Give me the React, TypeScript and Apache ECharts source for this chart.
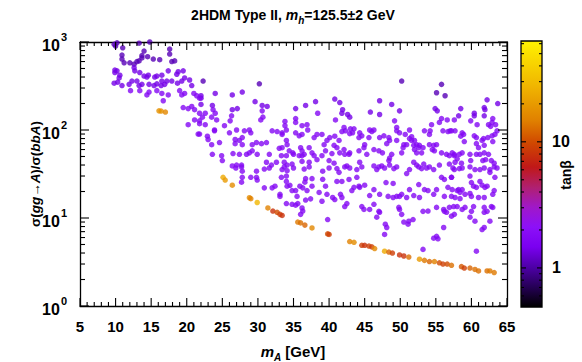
import React, { useEffect, useRef } from "react";
import * as echarts from "echarts";

// ---- axes ----
const X_MIN = 5;
const X_MAX = 65;
const X_STEP = 5;
const xMajorTicks = [5, 10, 15, 20, 25, 30, 35, 40, 45, 50, 55, 60, 65];
const xMinorTicks = [6, 7, 8, 9, 11, 12, 13, 14, 16, 17, 18, 19, 21, 22, 23, 24, 26, 27, 28, 29, 31, 32, 33, 34, 36, 37, 38, 39, 41, 42, 43, 44, 46, 47, 48, 49, 51, 52, 53, 54, 56, 57, 58, 59, 61, 62, 63, 64];
const Y_MIN = 1;
const Y_MAX = 1000;
const yMajorTicks = [1, 10, 100, 1000];
const yMinorTicks = [2, 3, 4, 5, 6, 7, 8, 9, 20, 30, 40, 50, 60, 70, 80, 90, 200, 300, 400, 500, 600, 700, 800, 900];
const TANB_MIN = 0.49;
const TANB_MAX = 63;
const cbMajorTicks = [1, 10];
const cbMinorTicks = [0.5, 0.6, 0.7, 0.8, 0.9, 2, 3, 4, 5, 6, 7, 8, 9, 20, 30, 40, 50, 60];

// ---- tan(beta) of the three purple groups ----
const TANB_DARK = 1.1;
const TANB_MID = 1.4;
const TANB_BRIGHT = 1.75;

// [m_A, sigma ratio]
const cloudDark: number[][] = [
  [9.8, 940], [10.2, 980], [10.0, 900], [13.3, 970], [14.8, 1000], [11.0, 860], [14.0, 790], [17.6, 830],
  [17.6, 730], [10.9, 710], [10.9, 640], [13.7, 700], [13.7, 660], [13.3, 610], [14.5, 680], [15.3, 640],
  [16.2, 630], [17.9, 600], [18.3, 610], [11.2, 580], [12.0, 580], [12.6, 560], [13.0, 600], [30.2, 335],
  [50.2, 360], [55.8, 330], [55.1, 265], [56.3, 245], [22.3, 360],
];

const cloudMid: number[][] = [
  [9.9, 480], [10.2, 470], [9.9, 450], [10.6, 420], [10.5, 390], [12.6, 510], [12.7, 470], [13.4, 450],
  [14.0, 410], [14.6, 420], [14.4, 400], [15.5, 400], [15.8, 410], [16.5, 420], [17.4, 470], [18.6, 430],
  [18.8, 460], [19.5, 470], [9.8, 340], [10.3, 350], [10.9, 320], [11.9, 330], [12.3, 360], [13.0, 360],
  [13.7, 330], [13.3, 320], [14.7, 330], [15.4, 320], [15.8, 335], [16.4, 320], [16.9, 330], [16.5, 360],
  [17.2, 360], [17.9, 360], [18.7, 340], [19.3, 360], [19.7, 390], [20.4, 370], [20.7, 320],
  [22.0, 245], [22.0, 230], [24.0, 260], [26.4, 250], [27.8, 270], [29.6, 210], [30.6, 190], [31.3, 185],
  [35.3, 175], [36.7, 190], [38.1, 210], [40.8, 225], [41.5, 205], [47.1, 215], [48.8, 195], [49.9, 165],
  [54.9, 175], [55.2, 165], [41.9, 170], [41.8, 155], [42.6, 150], [42.9, 140], [45.8, 160], [47.1, 150],
  [62.2, 220], [63.7, 200], [61.8, 180], [61.9, 170], [58.5, 175], [60.4, 155], [60.4, 145], [58.2, 145],
  [61.8, 145], [26.4, 170], [27.1, 175], [22.0, 195], [23.6, 190],
];

const cloudBright: number[][] = [
  [12.1, 280], [13.4, 280], [14.7, 270], [15.8, 280], [16.5, 260], [17.4, 250], [19.0, 280], [19.3, 250],
  [19.7, 260], [21.0, 260], [21.4, 245], [21.8, 230], [14.4, 250], [16.7, 215], [19.5, 180], [20.2, 175],
  [20.7, 185], [21.1, 170], [21.8, 155], [21.1, 130], [21.8, 127], [20.2, 115], [21.6, 90],
  [22.6, 155], [23.7, 170], [24.0, 155], [23.5, 140], [22.2, 140], [21.8, 118], [22.6, 115], [24.2, 130],
  [26.3, 145], [26.1, 127], [30.6, 165], [30.4, 130], [30.7, 140], [25.3, 112], [21.8, 90], [22.9, 85],
  [23.0, 78], [23.9, 100], [23.9, 98], [23.5, 68], [24.6, 72], [24.9, 51], [25.0, 45], [23.6, 53],
  [26.0, 93], [27.0, 100], [28.1, 98], [28.8, 100], [29.0, 93], [26.8, 78], [27.4, 76], [27.8, 82],
  [27.8, 68], [26.8, 70], [29.2, 68], [29.8, 72], [30.5, 70], [31.2, 72], [26.5, 54], [27.4, 53],
  [28.4, 53], [28.8, 55], [29.2, 58], [29.9, 53], [31.6, 53], [27.0, 40], [27.7, 40], [26.4, 39],
  [31.2, 43], [31.9, 40], [32.6, 43], [32.0, 98], [32.7, 96], [33.4, 93], [33.4, 89], [34.0, 100],
  [33.8, 112], [33.8, 125], [38.4, 155], [35.3, 135], [35.3, 122], [36.2, 112], [36.9, 115], [37.0, 100],
  [35.3, 93], [35.8, 86], [36.2, 89], [37.9, 82], [38.3, 89], [39.0, 89], [34.0, 76], [34.1, 68],
  [33.4, 63], [33.0, 62], [34.4, 58], [34.9, 55], [36.0, 63], [36.2, 58], [37.2, 63], [37.6, 55],
  [33.3, 51], [34.0, 51], [35.0, 53], [35.8, 51], [36.2, 51], [36.5, 53], [37.9, 51], [38.3, 46],
  [39.0, 51], [39.3, 68], [39.5, 58], [33.7, 43], [34.1, 40], [34.8, 41], [36.2, 44], [37.2, 43],
  [40.9, 130], [56.6, 130], [55.8, 135], [55.5, 122], [57.6, 130], [49.2, 127], [54.4, 115], [40.1, 82],
  [40.8, 85], [41.4, 76], [39.7, 76], [42.1, 107], [42.3, 98], [41.8, 96], [43.0, 103], [43.5, 103],
  [42.9, 91], [43.3, 93], [44.3, 93], [44.6, 86], [44.2, 82], [45.7, 100], [46.3, 100], [46.0, 96],
  [45.6, 82], [47.1, 82], [47.7, 86], [48.4, 82], [48.5, 76], [48.1, 70], [49.5, 107], [49.5, 98],
  [49.5, 76], [49.9, 93], [50.7, 89], [51.3, 80], [51.6, 84], [51.3, 100], [51.6, 76], [50.9, 68],
  [52.0, 76], [52.3, 68], [52.6, 63], [53.4, 98], [54.1, 89], [54.2, 98], [56.0, 98], [56.7, 96],
  [57.0, 98], [57.7, 98], [40.7, 67], [41.1, 63], [41.5, 55], [40.4, 54], [42.1, 60], [42.2, 53],
  [42.8, 53], [42.9, 55], [44.2, 58], [44.9, 63], [45.0, 68], [45.3, 53], [46.3, 60], [47.0, 58],
  [47.5, 55], [48.8, 53], [48.5, 48], [48.4, 45], [50.2, 55], [50.4, 63], [50.5, 68], [51.9, 67],
  [52.0, 60], [52.3, 55], [52.7, 67], [53.2, 63], [53.0, 55], [54.1, 68], [54.7, 67], [55.1, 68],
  [54.5, 60], [54.8, 58], [55.8, 55], [56.5, 53], [56.9, 51], [57.3, 55], [57.6, 53], [40.0, 45],
  [40.7, 42], [42.5, 39], [44.3, 43], [46.3, 39], [47.4, 39], [48.5, 40], [51.9, 43], [52.3, 40],
  [53.3, 41], [55.5, 40], [56.9, 41],
  [63.0, 135], [62.9, 122], [59.9, 127], [60.8, 115], [62.4, 115], [62.7, 110], [63.4, 115], [57.2, 98],
  [58.7, 93], [58.9, 89], [58.5, 85], [60.4, 86], [60.7, 82], [61.7, 80], [61.5, 76], [62.3, 82],
  [62.9, 86], [63.3, 89], [63.6, 98], [59.0, 74], [60.7, 70], [61.8, 67], [61.0, 63], [63.0, 74],
  [58.7, 55], [58.3, 53], [57.6, 51], [58.0, 47], [57.7, 43], [59.8, 53], [60.7, 53], [61.2, 53],
  [61.8, 55], [62.4, 53], [59.9, 45], [61.6, 45], [62.0, 46], [62.8, 45], [63.2, 42], [58.6, 42],
];

const cloudLow: number[][] = [
  [26.9, 37], [27.7, 38], [27.8, 34], [29.8, 34], [30.9, 36], [31.6, 37], [33.4, 35.5], [33.7, 38],
  [34.1, 34.5], [35.0, 37], [36.5, 36], [37.2, 38], [39.1, 34], [27.8, 29], [29.0, 29], [29.8, 29],
  [29.9, 27], [27.7, 25.5], [33.3, 29], [34.0, 30], [34.0, 26], [36.7, 28], [37.6, 28], [36.6, 25.5],
  [37.6, 23], [39.1, 27.5], [39.5, 23], [30.9, 22], [32.0, 22], [32.4, 23], [33.1, 18.6], [33.1, 17.6],
  [34.1, 23], [34.8, 20.5], [34.5, 23.5], [35.3, 20.5], [35.9, 23], [36.3, 22], [36.9, 20.5], [35.5, 17.6],
  [36.7, 16], [37.4, 16.5], [38.6, 19.5], [39.0, 15.5], [39.7, 18.6], [34.0, 14.6], [34.8, 14.3], [35.3, 14],
  [35.6, 14.6], [36.2, 13], [36.3, 12], [36.0, 11], [39.8, 9.6],
  [40.0, 37], [41.1, 36.4], [41.4, 33], [42.2, 38], [42.9, 37], [43.9, 35.5], [44.6, 38], [46.7, 35.5],
  [47.0, 38], [47.8, 37], [49.1, 36.4], [49.5, 38], [50.9, 32], [51.3, 35.5], [52.6, 38], [53.0, 36.4],
  [53.7, 37], [54.1, 38], [54.7, 35.5], [55.8, 29], [56.2, 27.4], [57.2, 29], [57.4, 37],
  [41.1, 26], [41.8, 26], [42.8, 27.4], [43.9, 29], [43.5, 22.3], [43.2, 20.5], [44.3, 22.3], [44.2, 23],
  [45.0, 23.6], [45.7, 18], [46.3, 21], [47.1, 18.6], [48.0, 25.3], [49.0, 24.7], [49.5, 17.6], [48.3, 17.6],
  [49.0, 17.1], [49.9, 17.6], [50.2, 18.6], [50.9, 17.1], [51.3, 21], [51.9, 18], [52.6, 24], [52.7, 17.1],
  [53.4, 21], [53.9, 20.5], [54.7, 18.6], [55.1, 21], [56.2, 17.6], [56.7, 22.3], [57.3, 21], [57.2, 17.6],
  [40.5, 17.1], [40.8, 16.2], [41.6, 18.6], [41.8, 17.1], [42.5, 14.6], [42.2, 13.5], [44.6, 13.5], [44.9, 12.5],
  [45.7, 12.5], [46.3, 14.3], [47.0, 11.9], [47.1, 11.6], [46.7, 10.2], [47.9, 8.5], [48.1, 7.8], [49.9, 12.5],
  [50.2, 11], [49.8, 13.2], [50.5, 9], [51.1, 8.5], [51.2, 9.2], [51.8, 9.6], [53.2, 11.9], [53.9, 12],
  [55.1, 13.2], [56.1, 12.5], [56.2, 11.9], [56.5, 11.6], [56.9, 13.2], [57.5, 13.5], [57.2, 10.5], [57.6, 11],
  [56.1, 7.8], [47.8, 6.5], [55.1, 6.2], [55.3, 5.8], [54.7, 5.9], [53.2, 4.4],
  [57.6, 35.5], [58.3, 36.4], [58.7, 37], [59.8, 38], [60.5, 35.5], [61.2, 35.5], [61.8, 37], [62.6, 35.5],
  [63.2, 38], [63.6, 37], [62.6, 33], [63.3, 29], [57.2, 29], [59.8, 30], [60.0, 25.3], [61.2, 26],
  [60.3, 23], [60.7, 22.3], [61.5, 23.6], [61.9, 22.3], [62.2, 23], [58.2, 21], [58.7, 21], [58.0, 20.5],
  [58.4, 19.6], [59.1, 18.6], [59.8, 19], [60.0, 17.6], [61.0, 17.1], [61.8, 17.1], [63.0, 18.6], [63.2, 20.5],
  [57.7, 17.1], [58.4, 16.6], [58.0, 13.5], [58.7, 12.5], [59.1, 13.2], [60.0, 11.9], [60.3, 13.5], [59.8, 10.2],
  [60.5, 9.2], [61.8, 13.2], [61.8, 11.6], [62.8, 13.5], [63.0, 13.2], [62.2, 11.9], [62.6, 9.2], [61.8, 7.8],
  [61.5, 7.4], [60.7, 4.2],
];

// [m_A, sigma ratio, tan(beta)] : large tan(beta) band
const bandPoints: number[][] = [
  [16.1, 165, 18], [16.4, 164, 18], [17.0, 160, 16],
  [25.1, 29, 24], [25.4, 27, 20], [26.4, 23.6, 17], [28.8, 17, 17], [29.0, 16.6, 15], [29.9, 15, 28],
  [31.4, 13, 15], [32.1, 12, 8], [32.7, 11.6, 10], [33.1, 11, 9], [33.4, 10.7, 8], [35.6, 9, 14],
  [36.0, 8.8, 13], [36.6, 8.3, 12], [37.6, 7.7, 16], [39.8, 6.6, 10], [40.0, 6.5, 9], [42.9, 5.4, 15],
  [43.5, 5.3, 17], [44.6, 4.9, 9], [45.0, 4.9, 8], [45.6, 4.8, 9], [46.0, 4.7, 9], [46.4, 4.5, 16],
  [47.8, 4.2, 24], [48.4, 4.1, 12], [48.9, 4.0, 9], [49.9, 3.8, 8], [50.5, 3.7, 8], [51.2, 3.6, 13],
  [52.7, 3.4, 20], [53.4, 3.3, 14], [54.1, 3.2, 12], [54.8, 3.2, 15], [55.5, 3.1, 10], [56.0, 3.0, 9],
  [56.6, 3.0, 10], [57.2, 2.9, 13], [58.6, 2.8, 11], [59.0, 2.7, 9], [59.8, 2.7, 12], [60.5, 2.6, 13],
  [61.0, 2.5, 13], [62.2, 2.5, 13], [62.6, 2.5, 14], [63.2, 2.4, 14],
];

// palette (fraction along log colour scale, colour)
const PALETTE: [number, string][] = [
  [0, "#000000"], [0.075, "#250055"], [0.147, "#4c00a4"], [0.226, "#7a00f0"], [0.3, "#8c10f8"],
  [0.376, "#a018c8"], [0.45, "#b02070"], [0.526, "#c01818"], [0.617, "#d04800"], [0.7, "#e08000"],
  [0.827, "#f0b400"], [1, "#fff200"],
];

function hexToRgb(h: string) {
  return [parseInt(h.slice(1, 3), 16), parseInt(h.slice(3, 5), 16), parseInt(h.slice(5, 7), 16)];
}
function colorFor(tanb: number) {
  const f = (Math.log10(tanb) - Math.log10(TANB_MIN)) / (Math.log10(TANB_MAX) - Math.log10(TANB_MIN));
  const t = Math.max(0, Math.min(1, f));
  for (let i = 1; i < PALETTE.length; i++) {
    if (t <= PALETTE[i][0]) {
      const [p0, c0] = PALETTE[i - 1];
      const [p1, c1] = PALETTE[i];
      const u = (t - p0) / (p1 - p0);
      const a = hexToRgb(c0);
      const b = hexToRgb(c1);
      const c = a.map((v, k) => Math.round(v + (b[k] - v) * u));
      return `rgb(${c[0]},${c[1]},${c[2]})`;
    }
  }
  return PALETTE[PALETTE.length - 1][1];
}

const FONT = "'Liberation Sans', Arial, sans-serif";
const BLACK = "#000";

export default function App() {
  const ref = useRef<HTMLDivElement>(null);
  useEffect(() => {
    if (!ref.current) return;
    const chart = echarts.init(ref.current, undefined, { renderer: "svg" });

    const pts = (arr: number[][], tb: number) =>
      arr.map((p) => ({ value: [p[0], p[1]], itemStyle: { color: colorFor(tb) } }));
    const data = [
      ...pts(cloudDark, TANB_DARK),
      ...pts(cloudMid, TANB_MID),
      ...pts(cloudBright, TANB_BRIGHT),
      ...pts(cloudLow, TANB_BRIGHT),
      ...bandPoints.map((p) => ({ value: [p[0], p[1]], itemStyle: { color: colorFor(p[2]) } })),
    ];

    // tick specs for main frame: [kind (0=x,1=y), value, length]
    const MAJ = 8;
    const MIN = 4;
    const frameTicks = [
      ...xMajorTicks.map((v) => [0, v, MAJ]),
      ...xMinorTicks.map((v) => [0, v, MIN]),
      ...yMajorTicks.map((v) => [1, v, MAJ + 1]),
      ...yMinorTicks.map((v) => [1, v, MIN + 1]),
    ];
    const cbTicks = [...cbMajorTicks.map((v) => [v, 5]), ...cbMinorTicks.map((v) => [v, 3])];
    const tickStyle = { stroke: BLACK, lineWidth: 1.1 };

    const xAxisBase = (pos: "bottom" | "top", labels: boolean) => ({
      type: "value" as const,
      gridIndex: 0,
      position: pos,
      min: X_MIN,
      max: X_MAX,
      interval: X_STEP,
      axisLine: { show: true, onZero: false, lineStyle: { color: BLACK, width: 1.3 } },
      axisTick: { show: false },
      splitLine: { show: false },
      axisLabel: {
        show: labels,
        margin: 13,
        color: BLACK,
        fontSize: 15,
        fontWeight: "bold" as const,
        fontFamily: FONT,
      },
    });

    chart.setOption({
      animation: false,
      backgroundColor: "#fff",
      grid: [
        { left: 80, top: 42, width: 427, height: 264, show: false },
        { left: 521, top: 41, width: 21, height: 266, show: false },
      ],
      xAxis: [
        xAxisBase("bottom", true),
        xAxisBase("top", false),
        { type: "value", gridIndex: 1, min: 0, max: 1, show: false },
      ],
      yAxis: [
        {
          type: "log",
          logBase: 10,
          gridIndex: 0,
          position: "left",
          min: Y_MIN,
          max: Y_MAX,
          axisLine: { show: true, onZero: false, lineStyle: { color: BLACK, width: 1.3 } },
          axisTick: { show: false },
          minorTick: { show: false },
          splitLine: { show: false },
          axisLabel: {
            show: true,
            margin: 13,
            formatter: (v: number) => `{b|10}{s|${Math.round(Math.log10(v))}}`,
            rich: {
              b: { fontSize: 16, fontWeight: "bold", fontFamily: FONT, color: BLACK, lineHeight: 22, verticalAlign: "bottom" },
              s: { fontSize: 11, fontWeight: "bold", fontFamily: FONT, color: BLACK, lineHeight: 22, verticalAlign: "top", padding: [0, 0, 0, 1] },
            },
          },
        },
        {
          type: "log",
          logBase: 10,
          gridIndex: 0,
          position: "right",
          min: Y_MIN,
          max: Y_MAX,
          axisLine: { show: true, onZero: false, lineStyle: { color: BLACK, width: 1.3 } },
          axisTick: { show: false },
          splitLine: { show: false },
          axisLabel: { show: false },
        },
        {
          type: "log",
          logBase: 10,
          gridIndex: 1,
          position: "right",
          min: TANB_MIN,
          max: TANB_MAX,
          z: 5,
          axisLine: { show: false },
          axisTick: { show: false },
          splitLine: { show: false },
          axisLabel: {
            show: true,
            margin: 10,
            showMinLabel: false,
            showMaxLabel: false,
            color: BLACK,
            fontSize: 16,
            fontWeight: "bold",
            fontFamily: FONT,
            formatter: (v: number) => (v === 1 || v === 10 ? `${v}` : ""),
          },
        },
      ],
      series: [
        {
          type: "scatter",
          xAxisIndex: 0,
          yAxisIndex: 0,
          symbol: "circle",
          symbolSize: 5.5,
          data,
          z: 2,
        },
        {
          type: "custom",
          xAxisIndex: 0,
          yAxisIndex: 0,
          z: 3,
          clip: false,
          silent: true,
          data: frameTicks,
          renderItem: (_p: any, api: any) => {
            const kind = api.value(0);
            const v = api.value(1);
            const len = api.value(2);
            if (kind === 0) {
              const b = api.coord([v, Y_MIN]);
              const t = api.coord([v, Y_MAX]);
              return {
                type: "group",
                children: [
                  { type: "line", shape: { x1: b[0], y1: b[1], x2: b[0], y2: b[1] - len }, style: tickStyle },
                  { type: "line", shape: { x1: t[0], y1: t[1], x2: t[0], y2: t[1] + len }, style: tickStyle },
                ],
              };
            }
            const l = api.coord([X_MIN, v]);
            const r = api.coord([X_MAX, v]);
            return {
              type: "group",
              children: [
                { type: "line", shape: { x1: l[0], y1: l[1], x2: l[0] + len, y2: l[1] }, style: tickStyle },
                { type: "line", shape: { x1: r[0], y1: r[1], x2: r[0] - len, y2: r[1] }, style: tickStyle },
              ],
            };
          },
        },
        {
          type: "custom",
          xAxisIndex: 2,
          yAxisIndex: 2,
          z: 3,
          clip: false,
          silent: true,
          data: cbTicks.map((t) => [0.5, t[0], t[1]]),
          encode: { x: 0, y: 1 },
          renderItem: (_p: any, api: any) => {
            const v = api.value(1);
            const len = api.value(2);
            const l = api.coord([0, v]);
            const r = api.coord([1, v]);
            return {
              type: "group",
              children: [
                { type: "line", shape: { x1: l[0], y1: l[1], x2: l[0] + len, y2: l[1] }, style: tickStyle },
                { type: "line", shape: { x1: r[0], y1: r[1], x2: r[0] - len, y2: r[1] }, style: tickStyle },
              ],
            };
          },
        },
      ],
      graphic: [
        {
          type: "rect",
          z: -1,
          shape: { x: 521, y: 41, width: 21, height: 266 },
          style: {
            fill: new echarts.graphic.LinearGradient(
              0, 1, 0, 0,
              PALETTE.map(([o, c]) => ({ offset: o, color: c }))
            ),
            stroke: BLACK,
            lineWidth: 1.3,
          },
        },
        {
          type: "text",
          x: 293,
          y: 15,
          style: {
            text: "{t|2HDM Type II, }{i|m}{sub|h}{t|=125.5±2 GeV}",
            align: "center",
            verticalAlign: "middle",
            rich: {
              t: { fontSize: 14, fontWeight: "bold", fontFamily: FONT, fill: BLACK, lineHeight: 20, verticalAlign: "middle" },
              i: { fontSize: 14, fontWeight: "bold", fontStyle: "italic", fontFamily: FONT, fill: BLACK, lineHeight: 20, verticalAlign: "middle" },
              sub: { fontSize: 10, fontWeight: "bold", fontStyle: "italic", fontFamily: FONT, fill: BLACK, lineHeight: 20, verticalAlign: "bottom" },
            },
          },
        },
        {
          type: "text",
          x: 293,
          y: 351,
          style: {
            text: "{i|m}{sub|A}{t| [GeV]}",
            align: "center",
            verticalAlign: "middle",
            rich: {
              t: { fontSize: 15, fontWeight: "bold", fontFamily: FONT, fill: BLACK, lineHeight: 22, verticalAlign: "middle" },
              i: { fontSize: 15, fontWeight: "bold", fontStyle: "italic", fontFamily: FONT, fill: BLACK, lineHeight: 22, verticalAlign: "middle" },
              sub: { fontSize: 10, fontWeight: "bold", fontStyle: "italic", fontFamily: FONT, fill: BLACK, lineHeight: 22, verticalAlign: "bottom" },
            },
          },
        },
        {
          type: "text",
          x: 35,
          y: 174,
          rotation: Math.PI / 2,
          style: {
            text: "{t|σ(}{i|gg}{t|→}{i|A}{t|)/σ(}{i|bbA}{t|)}",
            align: "center",
            verticalAlign: "middle",
            rich: {
              t: { fontSize: 13.5, fontWeight: "bold", fontFamily: FONT, fill: BLACK },
              i: { fontSize: 13.5, fontWeight: "bold", fontStyle: "italic", fontFamily: FONT, fill: BLACK },
            },
          },
        },
        {
          type: "text",
          x: 566,
          y: 175,
          rotation: Math.PI / 2,
          style: {
            text: "tanβ",
            align: "center",
            verticalAlign: "middle",
            fontSize: 14,
            fontWeight: "bold",
            fontFamily: FONT,
            fill: BLACK,
          },
        },
      ],
    });
    return () => chart.dispose();
  }, []);
  return <div ref={ref} style={{ position: "fixed", left: 0, top: 0, width: 582, height: 362 }} />;
}
